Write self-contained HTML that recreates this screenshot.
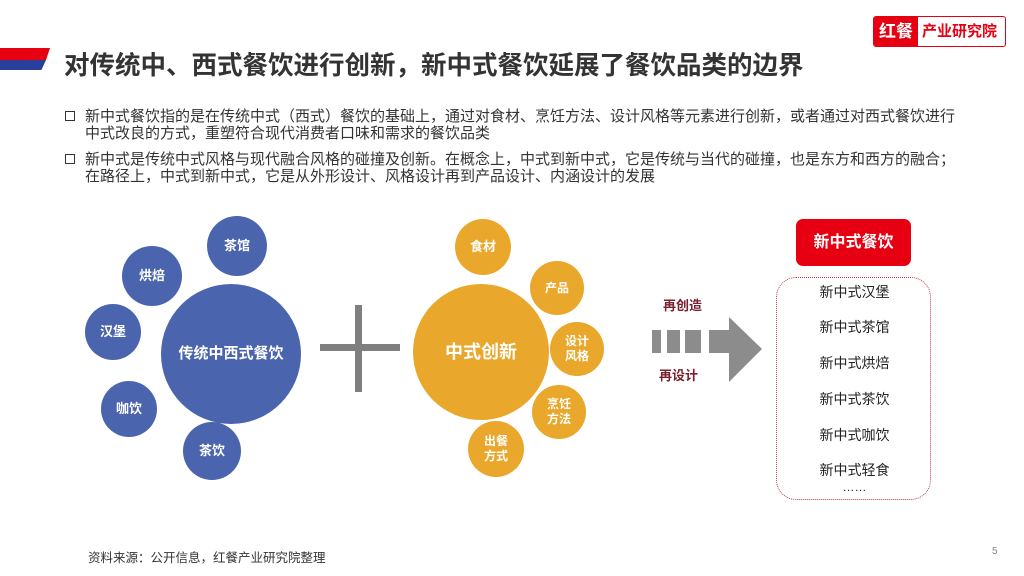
<!DOCTYPE html><html><head><meta charset="utf-8"><style>
body{margin:0;width:1024px;height:576px;overflow:hidden;background:#fff;font-family:"Liberation Sans","Noto Sans CJK SC",sans-serif;position:relative}
.a{position:absolute}
.c{position:absolute;border-radius:50%;color:#fff;display:flex;align-items:center;justify-content:center;text-align:center;font-weight:bold;line-height:1.25}
.b{background:#4a64ad}.o{background:#e9a72b}
.li{position:absolute;left:0;width:155px;text-align:center;font-size:14px;color:#222}
</style></head><body>
<div class="a" style="left:0;top:48px;width:50px;height:12px;background:#e60012;clip-path:polygon(0 0,100% 0,92% 100%,0 100%)"></div>
<div class="a" style="left:0;top:60px;width:46px;height:10px;background:#2a3f9a;clip-path:polygon(0 0,100% 0,90% 100%,0 100%)"></div>
<div class="a" style="left:64px;top:45px;font-size:25.5px;font-weight:bold;color:#333;white-space:nowrap">对传统中、西式餐饮进行创新，新中式餐饮延展了餐饮品类的边界</div>
<div class="a" style="left:873px;top:16px;width:133px;height:31px;border:1px solid #e60012;border-radius:3px;box-sizing:border-box;display:flex;overflow:hidden">
<div style="background:#e60012;color:#fff;width:44px;font-size:17px;font-weight:bold;text-align:center;line-height:29px">红餐</div>
<div style="color:#e60012;font-size:15px;font-weight:bold;line-height:29px;padding-left:4px">产业研究院</div></div>
<div class="a" style="left:65px;top:108px;font-size:15px;color:#333;line-height:17px;width:940px;white-space:nowrap">
<div style="padding-left:20px;position:relative"><span style="position:absolute;left:0;top:3px;width:8px;height:8px;border:1.5px solid #333"></span>新中式餐饮指的是在传统中式（西式）餐饮的基础上，通过对食材、烹饪方法、设计风格等元素进行创新，或者通过对西式餐饮进行<br>中式改良的方式，重塑符合现代消费者口味和需求的餐饮品类</div>
<div style="padding-left:20px;position:relative;margin-top:9px"><span style="position:absolute;left:0;top:3px;width:8px;height:8px;border:1.5px solid #333"></span>新中式是传统中式风格与现代融合风格的碰撞及创新。在概念上，中式到新中式，它是传统与当代的碰撞，也是东方和西方的融合；<br>在路径上，中式到新中式，它是从外形设计、风格设计再到产品设计、内涵设计的发展</div></div>
<div class="c b" style="left:161px;top:284px;width:140px;height:140px;font-size:15px">传统中西式餐饮</div>
<div class="c b" style="left:207px;top:216px;width:60px;height:60px;font-size:13px">茶馆</div>
<div class="c b" style="left:122px;top:246px;width:60px;height:60px;font-size:13px">烘焙</div>
<div class="c b" style="left:85px;top:304px;width:56px;height:56px;font-size:13px">汉堡</div>
<div class="c b" style="left:101px;top:381px;width:56px;height:56px;font-size:13px">咖饮</div>
<div class="c b" style="left:183px;top:422px;width:58px;height:58px;font-size:13px">茶饮</div>
<div class="a" style="left:320px;top:344px;width:80px;height:7px;background:#7f7f7f"></div>
<div class="a" style="left:355px;top:305px;width:7px;height:87px;background:#7f7f7f"></div>
<div class="c o" style="left:413px;top:284px;width:136px;height:136px;font-size:18px">中式创新</div>
<div class="c o" style="left:455px;top:219px;width:56px;height:56px;font-size:13px">食材</div>
<div class="c o" style="left:530px;top:261px;width:54px;height:54px;font-size:12px">产品</div>
<div class="c o" style="left:550px;top:322px;width:54px;height:54px;font-size:12px">设计<br>风格</div>
<div class="c o" style="left:532px;top:385px;width:54px;height:54px;font-size:12px">烹饪<br>方法</div>
<div class="c o" style="left:468px;top:421px;width:56px;height:56px;font-size:12px">出餐<br>方式</div>
<div class="a" style="left:663px;top:295px;font-size:13px;font-weight:bold;color:#7a2030">再创造</div>
<div class="a" style="left:659px;top:365px;font-size:13px;font-weight:bold;color:#7a2030">再设计</div>
<svg class="a" style="left:640px;top:310px" width="130" height="80"><g fill="#8c8c8c"><rect x="12" y="20" width="9" height="23"/><rect x="27" y="20" width="13" height="23"/><rect x="45" y="20" width="16" height="23"/><polygon points="69,20 89,20 89,7 122,39 89,72 89,43 69,43"/></g></svg>
<div class="a" style="left:796px;top:219px;width:115px;height:47px;background:#e60012;border-radius:7px;color:#fff;font-size:16px;font-weight:bold;text-align:center;line-height:47px">新中式餐饮</div>
<div class="a" style="left:776px;top:277px;width:155px;height:223px;border:1.5px dotted #c0394b;border-radius:20px;box-sizing:border-box">
<div class="li" style="top:4px">新中式汉堡</div><div class="li" style="top:39px">新中式茶馆</div><div class="li" style="top:75px">新中式烘焙</div><div class="li" style="top:111px">新中式茶饮</div><div class="li" style="top:147px">新中式咖饮</div><div class="li" style="top:182px">新中式轻食</div><div class="li" style="top:202px;font-size:12px">……</div></div>
<div class="a" style="left:88px;top:547px;font-size:12.5px;color:#333;white-space:nowrap">资料来源：公开信息，红餐产业研究院整理</div>
<div class="a" style="left:992px;top:546px;font-size:10px;color:#888">5</div>
</body></html>
